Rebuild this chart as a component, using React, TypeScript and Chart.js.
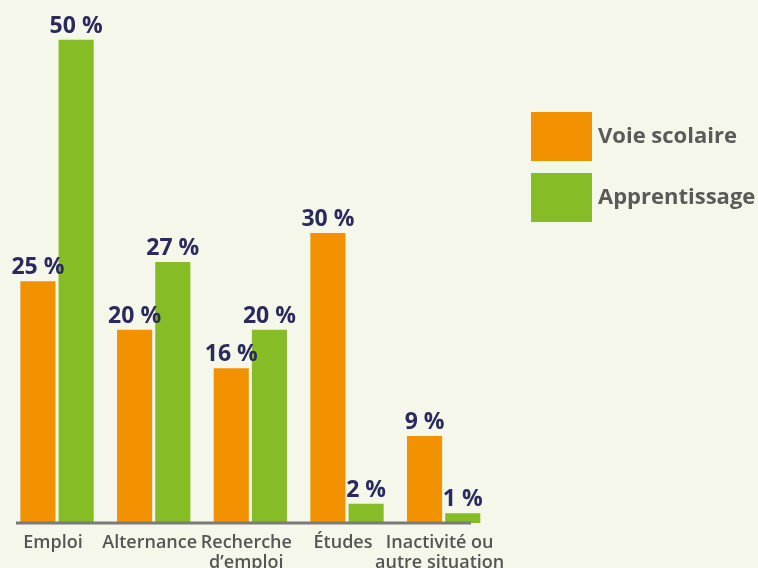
import React, { useEffect, useRef } from "react";
import { Chart, registerables } from "chart.js";

Chart.register(...registerables);

const categories: (string | string[])[] = [
  "Emploi",
  "Alternance",
  ["Recherche", "d’emploi"],
  "Études",
  ["Inactivité ou", "autre situation"],
];
const voieScolaire = [25, 20, 16, 30, 9];
const apprentissage = [50, 27, 20, 2, 1];
const seriesNames = ["Voie scolaire", "Apprentissage"];
const seriesColors = ["#f39200", "#86bc25"];

const FONT = "'Open Sans', 'Noto Sans', sans-serif";

const valueLabels = {
  id: "valueLabels",
  afterDatasetsDraw(chart: any) {
    const ctx = chart.ctx;
    ctx.save();
    ctx.font = `bold 23px ${FONT}`;
    ctx.fillStyle = "#2b2a5e";
    ctx.textAlign = "center";
    ctx.textBaseline = "alphabetic";
    chart.data.datasets.forEach((ds: any, i: number) => {
      const meta = chart.getDatasetMeta(i);
      meta.data.forEach((bar: any, j: number) => {
        ctx.fillText(`${ds.data[j]} %`, bar.x, bar.y - 7);
      });
    });
    ctx.restore();
  },
};

const baseline = {
  id: "baseline",
  afterDatasetsDraw(chart: any) {
    const ctx = chart.ctx;
    const y = chart.chartArea.bottom;
    ctx.save();
    ctx.strokeStyle = "#7a7a7a";
    ctx.lineWidth = 3;
    ctx.beginPath();
    ctx.moveTo(16, y);
    ctx.lineTo(471, y);
    ctx.stroke();
    ctx.restore();
  },
};

const customLegend = {
  id: "customLegend",
  afterDraw(chart: any) {
    const ctx = chart.ctx;
    ctx.save();
    ctx.font = `bold 22px ${FONT}`;
    ctx.textAlign = "left";
    ctx.textBaseline = "middle";
    chart.data.datasets.forEach((ds: any, i: number) => {
      const top = 112 + i * 61;
      ctx.fillStyle = ds.backgroundColor;
      ctx.fillRect(531, top, 61, 49);
      ctx.fillStyle = "#5a5a5a";
      ctx.fillText(ds.label, 598, top + 25);
    });
    ctx.restore();
  },
};

export default function App() {
  const ref = useRef<HTMLCanvasElement | null>(null);
  useEffect(() => {
    if (!ref.current) return;
    const chart = new Chart(ref.current, {
      type: "bar",
      data: {
        labels: categories,
        datasets: [
          {
            label: seriesNames[0],
            data: voieScolaire,
            backgroundColor: seriesColors[0],
            categoryPercentage: 0.79,
            barPercentage: 0.92,
          },
          {
            label: seriesNames[1],
            data: apprentissage,
            backgroundColor: seriesColors[1],
            categoryPercentage: 0.79,
            barPercentage: 0.92,
          },
        ],
      },
      options: {
        animation: false,
        responsive: false,
        maintainAspectRatio: false,
        layout: { padding: { left: 8.7, right: 266, top: 0, bottom: 0 } },
        plugins: {
          legend: { display: false },
          tooltip: { enabled: false },
        },
        scales: {
          x: {
            grid: { display: false },
            border: { display: false },
            ticks: {
              color: "#555555",
              font: { family: FONT, size: 18, weight: 600, lineHeight: 1.12 },
              padding: 2,
              labelOffset: -4,
              maxRotation: 0,
              autoSkip: false,
            },
            afterFit: (s: any) => {
              s.height = 45;
            },
          },
          y: {
            display: false,
            min: 0,
            max: 54.1,
          },
        },
      },
      plugins: [valueLabels, baseline, customLegend],
    });
    return () => chart.destroy();
  }, []);
  return (
    <div
      style={{
        position: "absolute",
        left: 0,
        top: 0,
        width: 758,
        height: 568,
        background: "#f4f7ea",
      }}
    >
      <canvas ref={ref} width={758} height={568} style={{ width: 758, height: 568 }} />
    </div>
  );
}
